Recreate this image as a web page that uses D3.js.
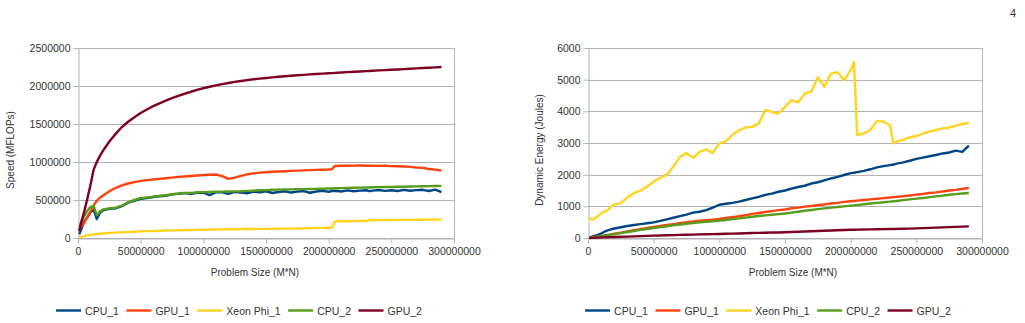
<!DOCTYPE html>
<html>
<head>
<meta charset="utf-8">
<script src="https://cdn.jsdelivr.net/npm/d3@7"></script>
<style>
  body { margin: 0; background: #fff; }
  svg { font-family: "Liberation Sans", Arial, sans-serif; }
</style>
</head>
<body>
<svg id="chart" width="1025" height="323"></svg>
<script>
// problem sizes (M*N), shared by both charts
const problemSize = [1e6, 3e6, 5e6, 7.5e6, 10e6, 12.5e6, 15e6, 17.5e6, 20e6,
  25e6, 30e6, 35e6, 40e6, 45e6, 50e6, 55e6, 60e6, 65e6, 70e6, 75e6, 80e6, 85e6, 90e6, 95e6, 100e6,
  105e6, 110e6, 115e6, 120e6, 125e6, 130e6, 135e6, 140e6, 145e6, 150e6, 155e6, 160e6, 165e6, 170e6,
  175e6, 180e6, 185e6, 190e6, 195e6, 200e6, 202.5e6, 205e6, 210e6, 215e6, 220e6, 225e6, 230e6,
  232.5e6, 235e6, 240e6, 245e6, 250e6, 255e6, 260e6, 265e6, 270e6, 275e6, 280e6, 285e6, 290e6];

const seriesNames = ["CPU_1", "GPU_1", "Xeon Phi_1", "CPU_2", "GPU_2"];
const seriesColors = ["#004586", "#ff420e", "#ffd320", "#579d1c", "#7e0021"];

// speed (MFLOPs)
const speedCpu1 = [50000, 130000, 220000, 270000, 340000, 370000, 250000, 330000, 365000,
  385000, 390000, 420000, 465000, 490000, 515000, 525000, 540000, 550000, 555000, 575000, 580000, 590000, 580000, 595000, 598000,
  565000, 600000, 602000, 580000, 606000, 598000, 588000, 610000, 600000, 615000, 592000, 605000, 615000, 598000,
  610000, 618000, 595000, 612000, 620000, 608000, 618000, 622000, 612000, 626000, 616000, 624000, 628000,
  616000, 624000, 632000, 620000, 628000, 618000, 633000, 622000, 630000, 634000, 618000, 636000, 605000];
const speedGpu1 = [110000, 160000, 200000, 280000, 350000, 430000, 490000, 530000, 560000,
  615000, 660000, 692000, 717000, 735000, 752000, 762000, 770000, 778000, 787000, 795000, 804000, 810000, 816000, 822000, 828000,
  832000, 836000, 815000, 778000, 795000, 818000, 838000, 850000, 860000, 866000, 871000, 875000, 879000, 883000,
  887000, 890000, 893000, 896000, 899000, 902000, 905000, 948000, 950000, 951000, 952000, 953000, 951000,
  952000, 951000, 949000, 950000, 946000, 944000, 940000, 936000, 928000, 922000, 908000, 900000, 888000];
const speedXeon1 = [5000, 15000, 25000, 35000, 42000, 48000, 52000, 56000, 60000,
  66000, 71000, 75000, 79000, 83000, 87000, 90000, 93000, 96000, 98000, 100000, 102000, 104000, 106000, 107000, 109000,
  110000, 112000, 113000, 115000, 116000, 117000, 118000, 119000, 120000, 120000, 121000, 122000, 123000, 124000,
  125000, 127000, 129000, 131000, 133000, 135000, 136000, 219000, 220000, 221000, 222000, 223000, 224000,
  233000, 234000, 235000, 236000, 237000, 238000, 238000, 239000, 240000, 241000, 242000, 242000, 243000];
const speedCpu2 = [150000, 230000, 290000, 360000, 410000, 420000, 300000, 350000, 375000,
  390000, 400000, 425000, 470000, 500000, 525000, 532000, 545000, 555000, 562000, 575000, 585000, 592000, 594000, 600000, 604000,
  606000, 608000, 610000, 612000, 614000, 616000, 620000, 624000, 628000, 630000, 634000, 636000, 638000, 640000,
  641000, 643000, 645000, 647000, 649000, 651000, 652000, 654000, 656000, 659000, 661000, 663000, 665000,
  665000, 667000, 669000, 671000, 672000, 674000, 675000, 677000, 679000, 681000, 682000, 684000, 686000];
const speedGpu2 = [90000, 230000, 350000, 520000, 700000, 900000, 1000000, 1080000, 1150000,
  1270000, 1370000, 1460000, 1530000, 1590000, 1645000, 1690000, 1735000, 1772000, 1808000, 1840000, 1870000, 1898000, 1924000, 1948000, 1970000,
  1990000, 2008000, 2024000, 2040000, 2054000, 2066000, 2077000, 2088000, 2097000, 2106000, 2114000, 2121000, 2128000, 2135000,
  2141000, 2147000, 2153000, 2158000, 2163000, 2168000, 2170000, 2173000, 2178000, 2182000, 2187000, 2191000, 2196000,
  2198000, 2200000, 2205000, 2209000, 2213000, 2218000, 2222000, 2227000, 2232000, 2236000, 2240000, 2245000, 2250000];

// dynamic energy (Joules)
const energyCpu1 = [15, 40, 70, 100, 140, 200, 240, 270, 300,
  340, 380, 410, 440, 465, 495, 540, 590, 640, 690, 740, 800, 830, 880, 960, 1050,
  1080, 1110, 1150, 1200, 1250, 1300, 1360, 1400, 1460, 1500, 1560, 1610, 1650, 1720,
  1760, 1820, 1880, 1930, 1990, 2050, 2060, 2080, 2120, 2170, 2230, 2270, 2300,
  2320, 2350, 2390, 2440, 2500, 2540, 2580, 2620, 2670, 2700, 2760, 2720, 2920];
const energyGpu1 = [5, 15, 30, 45, 60, 80, 100, 115, 135,
  170, 210, 245, 280, 315, 347, 380, 410, 440, 470, 500, 520, 545, 560, 580, 600,
  630, 660, 690, 720, 760, 790, 820, 850, 880, 900, 940, 960, 990, 1010,
  1040, 1060, 1090, 1110, 1140, 1160, 1170, 1180, 1200, 1220, 1240, 1260, 1280,
  1290, 1300, 1320, 1340, 1370, 1390, 1420, 1440, 1470, 1500, 1520, 1550, 1580];
const energyXeon1 = [640, 580, 620, 690, 780, 840, 880, 980, 1060,
  1100, 1280, 1420, 1500, 1620, 1780, 1900, 2000, 2250, 2560, 2680, 2530, 2720, 2800, 2680, 2990,
  3050, 3260, 3400, 3490, 3510, 3620, 4040, 3980, 3930, 4140, 4350, 4280, 4560, 4620,
  5080, 4770, 5190, 5240, 4980, 5300, 5560, 3250, 3300, 3410, 3700, 3670, 3560,
  2990, 3040, 3110, 3180, 3220, 3300, 3360, 3410, 3460, 3490, 3550, 3600, 3640];
const energyCpu2 = [5, 12, 25, 40, 55, 70, 88, 105, 122,
  155, 190, 222, 255, 285, 315, 345, 372, 400, 425, 450, 472, 495, 515, 530, 547,
  570, 595, 620, 645, 670, 695, 715, 735, 755, 775, 800, 830, 860, 885,
  910, 935, 960, 980, 1000, 1021, 1030, 1040, 1065, 1090, 1110, 1130, 1150,
  1160, 1170, 1195, 1220, 1242, 1265, 1290, 1315, 1340, 1365, 1385, 1405, 1421];
const energyGpu2 = [2, 5, 8, 12, 16, 20, 24, 28, 32,
  38, 45, 52, 60, 67, 74, 80, 86, 92, 98, 103, 108, 113, 117, 122, 126,
  132, 138, 144, 150, 156, 162, 168, 172, 176, 180, 188, 196, 204, 212,
  220, 228, 236, 244, 252, 260, 262, 264, 268, 272, 276, 280, 284,
  286, 288, 292, 296, 305, 312, 320, 328, 336, 344, 352, 360, 368];

const xTicks = [0, 50000000, 100000000, 150000000, 200000000, 250000000, 300000000];
const speedTicks = [0, 500000, 1000000, 1500000, 2000000, 2500000];
const energyTicks = [0, 1000, 2000, 3000, 4000, 5000, 6000];

const svg = d3.select("#chart");

function drawChart(cfg) {
    let x = d3.scaleLinear().domain([0, 300000000]).range([cfg.left, cfg.right]);
    let y = d3.scaleLinear().domain([0, cfg.yTicks[cfg.yTicks.length - 1]]).range([cfg.bottom, cfg.top]);
    let g = svg.append("g");

    // horizontal grid
    g.selectAll("line.grid")
        .data(cfg.yTicks)
        .enter().append("line")
        .attr("class", "grid")
        .attr("x1", cfg.left).attr("x2", cfg.right)
        .attr("y1", d => Math.round(y(d)) + 0.5).attr("y2", d => Math.round(y(d)) + 0.5)
        .style("stroke", "#b3b3b3");

    // right border of plot area
    g.append("line")
        .attr("x1", Math.round(cfg.right) + 0.5).attr("x2", Math.round(cfg.right) + 0.5)
        .attr("y1", cfg.top).attr("y2", cfg.bottom)
        .style("stroke", "#b3b3b3");

    let xAxis = d3.axisBottom(x).tickValues(xTicks).tickFormat(d3.format("d")).tickSizeInner(5).tickSizeOuter(0).tickPadding(4);
    let yAxis = d3.axisLeft(y).tickValues(cfg.yTicks).tickFormat(d3.format("d")).tickSizeInner(5).tickSizeOuter(0).tickPadding(3);

    let gx = g.append("g")
        .attr("transform", `translate(0,${Math.round(cfg.bottom) + 0.5})`)
        .call(xAxis);
    let gy = g.append("g")
        .attr("transform", `translate(${Math.round(cfg.left) + 0.5},0)`)
        .call(yAxis);
    [gx, gy].forEach(a => {
        a.selectAll("path, line").style("stroke", "#b3b3b3");
        a.selectAll("text").style("font-size", "10.5px").style("fill", "#333").style("font-family", "Liberation Sans, Arial, sans-serif");
    });

    // series lines
    let line = d3.line()
        .x((d, i) => x(problemSize[i]))
        .y(d => y(d));
    cfg.series.forEach((s, i) => {
        g.append("path")
            .datum(s)
            .attr("d", line)
            .style("fill", "none")
            .style("stroke", seriesColors[i])
            .style("stroke-width", 2.4)
            .style("stroke-linejoin", "round");
    });

    // axis titles
    g.append("text")
        .attr("x", cfg.xTitleX).attr("y", 276)
        .attr("text-anchor", "middle")
        .style("font-size", "10px").style("fill", "#333")
        .text("Problem Size (M*N)");
    g.append("text")
        .attr("transform", `translate(${cfg.yTitleX},150) rotate(-90)`)
        .attr("text-anchor", "middle")
        .style("font-size", "10px").style("fill", "#333")
        .text(cfg.yTitle);

    // legend
    let lg = g.append("g").attr("transform", "translate(0,310.5)");
    let cx = 0;
    seriesNames.forEach((name, i) => {
        lg.append("line")
            .attr("x1", cx).attr("x2", cx + 25)
            .style("stroke", seriesColors[i]).style("stroke-width", 2.4);
        let t = lg.append("text")
            .attr("x", cx + 29).attr("y", 4)
            .style("font-size", "10.5px").style("fill", "#333")
            .text(name);
        cx += 29 + t.node().getComputedTextLength() + 7.5;
    });
    let totalW = cx - 7.5;
    lg.attr("transform", `translate(${cfg.legendCenter - totalW / 2},310.5)`);
}

drawChart({
    left: 78, right: 454, top: 48, bottom: 238,
    yTicks: speedTicks,
    series: [speedCpu1, speedGpu1, speedXeon1, speedCpu2, speedGpu2],
    yTitle: "Speed (MFLOPs)", yTitleX: 14, xTitleX: 255, legendCenter: 239
});
drawChart({
    left: 588, right: 982, top: 48, bottom: 238,
    yTicks: energyTicks,
    series: [energyCpu1, energyGpu1, energyXeon1, energyCpu2, energyGpu2],
    yTitle: "Dynamic Energy (Joules)", yTitleX: 543, xTitleX: 793, legendCenter: 768
});

svg.append("text")
    .attr("x", 1013).attr("y", 17)
    .attr("text-anchor", "middle")
    .style("font-size", "11px").style("fill", "#333")
    .text("4");
</script>
</body>
</html>
